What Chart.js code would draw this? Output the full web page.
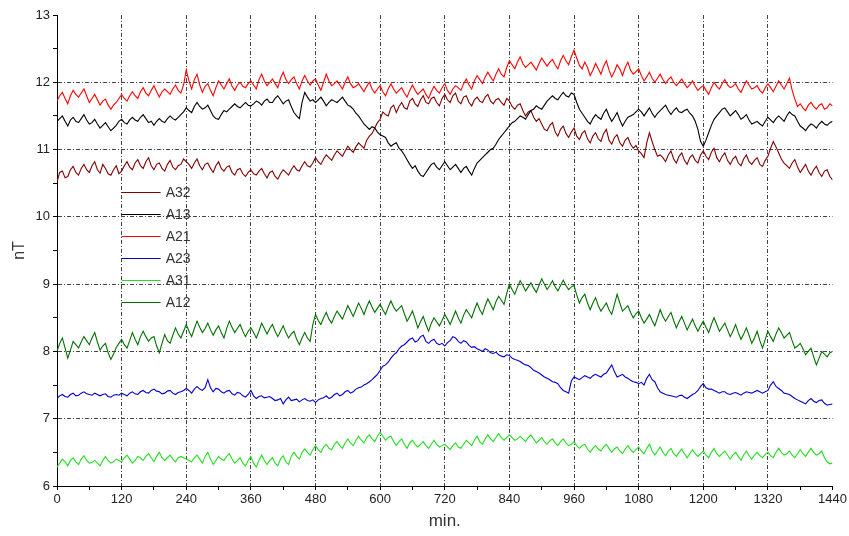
<!DOCTYPE html>
<html lang="en">
<head>
<meta charset="UTF-8">
<title>nT per minute</title>
<script src="https://cdn.jsdelivr.net/npm/chart.js"></script>
<style>
  html, body { margin: 0; padding: 0; background: #fff; }
  #wrap { width: 849px; height: 536px; position: relative; }
</style>
</head>
<body>
<div id="wrap"><canvas id="chart" width="849" height="536"></canvas></div>
<script>
// readings every 5 minutes, 0..1440
// the *On10 arrays hold the values at 0,10,20..1440 min, the *On5 arrays the ones at 5,15,25..1435 min
const minutes = [];
for (let m = 0; m <= 1440; m += 5) minutes.push(m);

const seriesNames = ['A32', 'A13', 'A21', 'A23', 'A31', 'A12'];
const seriesColors = ['#800000', '#000000', '#ff0000', '#0000cc', '#22dd22', '#007000'];

const a32On10 = [
  10.52, 10.68, 10.60, 10.75, 10.62, 10.78, 10.66, 10.82, 10.65, 10.72, 10.62, 10.76,
  10.68, 10.82, 10.70, 10.85, 10.72, 10.88, 10.70, 10.80, 10.68, 10.84, 10.70, 10.78,
  10.82, 10.72, 10.86, 10.70, 10.80, 10.66, 10.82, 10.68, 10.76, 10.62, 10.72, 10.60,
  10.70, 10.62, 10.72, 10.58, 10.68, 10.56, 10.70, 10.62, 10.76, 10.68, 10.82, 10.74,
  10.88, 10.78, 10.92, 10.84, 10.98, 10.90, 11.05, 10.96, 11.10, 11.02, 11.20, 11.32,
  11.45, 11.52, 11.62, 11.55, 11.70, 11.60, 11.76, 11.64, 11.80, 11.68, 11.78, 11.65,
  11.82, 11.70, 11.84, 11.68, 11.80, 11.65, 11.78, 11.70, 11.82, 11.68, 11.76, 11.66,
  11.72, 11.60, 11.68, 11.50, 11.58, 11.42, 11.38, 11.28, 11.40, 11.20, 11.35, 11.18,
  11.32, 11.15, 11.28, 11.10, 11.25, 11.12, 11.30, 11.08, 11.22, 11.05, 11.18, 11.02,
  10.98, 10.88, 11.25, 11.00, 10.92, 10.82, 10.98, 10.80, 10.95, 10.78, 10.92, 10.80,
  10.98, 10.85, 11.02, 10.82, 10.95, 10.78, 10.90, 10.76, 10.92, 10.78, 10.88, 10.75,
  10.90, 11.12, 10.95, 10.80, 10.72, 10.85, 10.66, 10.78, 10.62, 10.75, 10.60, 10.70,
  10.55
];
const a32On5 = [
  10.66, 10.58, 10.70, 10.66, 10.72, 10.70, 10.76, 10.70, 10.78, 10.64, 10.70, 10.64,
  10.76, 10.74, 10.80, 10.76, 10.82, 10.76, 10.78, 10.72, 10.78, 10.74, 10.76, 10.86,
  10.78, 10.80, 10.76, 10.78, 10.72, 10.76, 10.72, 10.74, 10.66, 10.70, 10.64, 10.66,
  10.64, 10.68, 10.64, 10.66, 10.60, 10.64, 10.66, 10.70, 10.70, 10.76, 10.76, 10.80,
  10.82, 10.86, 10.88, 10.92, 10.94, 10.98, 11.00, 11.04, 11.06, 11.14, 11.24, 11.40,
  11.56, 11.50, 11.66, 11.64, 11.62, 11.72, 11.68, 11.74, 11.70, 11.76, 11.70, 11.76,
  11.74, 11.80, 11.72, 11.78, 11.70, 11.74, 11.72, 11.78, 11.72, 11.74, 11.70, 11.76,
  11.64, 11.66, 11.58, 11.56, 11.48, 11.46, 11.30, 11.36, 11.26, 11.30, 11.24, 11.26,
  11.20, 11.24, 11.16, 11.20, 11.16, 11.24, 11.14, 11.18, 11.10, 11.14, 11.08, 11.06,
  10.94, 11.10, 11.12, 10.90, 10.88, 10.92, 10.86, 10.90, 10.84, 10.88, 10.84, 10.92,
  10.90, 10.96, 10.88, 10.90, 10.84, 10.86, 10.80, 10.86, 10.82, 10.84, 10.78, 10.84,
  11.02, 11.04, 10.86, 10.76, 10.80, 10.74, 10.72, 10.68, 10.70, 10.66, 10.68, 10.60
];

const a13On10 = [
  11.42, 11.50, 11.35, 11.48, 11.40, 11.52, 11.38, 11.45, 11.32, 11.40, 11.28, 11.36,
  11.45, 11.38, 11.48, 11.42, 11.52, 11.40, 11.36, 11.46, 11.40, 11.50, 11.44, 11.52,
  11.62, 11.55, 11.70, 11.60, 11.66, 11.50, 11.45, 11.58, 11.60, 11.68, 11.62, 11.70,
  11.65, 11.72, 11.66, 11.75, 11.70, 11.80, 11.68, 11.74, 11.55, 11.46, 11.85, 11.72,
  11.70, 11.78, 11.65, 11.74, 11.70, 11.78, 11.66, 11.60, 11.50, 11.38, 11.30, 11.32,
  11.22, 11.18, 11.05, 11.10, 10.98, 10.85, 10.72, 10.68, 10.60, 10.72, 10.80, 10.70,
  10.82, 10.70, 10.78, 10.66, 10.75, 10.62, 10.80, 10.88, 10.96, 11.02, 11.15, 11.25,
  11.35, 11.42, 11.50, 11.45, 11.58, 11.65, 11.60, 11.72, 11.80, 11.74, 11.85, 11.78,
  11.82, 11.60, 11.48, 11.38, 11.52, 11.45, 11.60, 11.42, 11.55, 11.35, 11.48, 11.52,
  11.60, 11.50, 11.62, 11.48, 11.58, 11.66, 11.52, 11.62, 11.55, 11.60, 11.50, 11.30,
  11.05, 11.25, 11.45, 11.55, 11.62, 11.50, 11.58, 11.45, 11.52, 11.38, 11.42, 11.35,
  11.48, 11.40, 11.50, 11.42, 11.56, 11.50, 11.35, 11.28, 11.38, 11.32, 11.42, 11.36,
  11.42
];
const a13On5 = [
  11.46, 11.42, 11.44, 11.42, 11.46, 11.44, 11.40, 11.38, 11.36, 11.34, 11.32, 11.42,
  11.40, 11.44, 11.44, 11.48, 11.46, 11.42, 11.42, 11.42, 11.46, 11.46, 11.48, 11.56,
  11.58, 11.64, 11.64, 11.62, 11.58, 11.46, 11.52, 11.56, 11.64, 11.64, 11.66, 11.66,
  11.68, 11.70, 11.72, 11.70, 11.76, 11.74, 11.72, 11.64, 11.50, 11.70, 11.78, 11.74,
  11.74, 11.72, 11.70, 11.72, 11.74, 11.72, 11.64, 11.54, 11.44, 11.34, 11.34, 11.26,
  11.20, 11.10, 11.08, 11.02, 10.92, 10.78, 10.76, 10.62, 10.66, 10.78, 10.74, 10.76,
  10.76, 10.74, 10.72, 10.72, 10.68, 10.72, 10.84, 10.92, 11.00, 11.08, 11.20, 11.30,
  11.40, 11.46, 11.48, 11.52, 11.60, 11.62, 11.66, 11.76, 11.76, 11.80, 11.80, 11.84,
  11.70, 11.54, 11.42, 11.46, 11.48, 11.54, 11.50, 11.48, 11.44, 11.42, 11.50, 11.56,
  11.56, 11.56, 11.54, 11.54, 11.62, 11.58, 11.58, 11.56, 11.58, 11.54, 11.42, 11.12,
  11.14, 11.36, 11.50, 11.60, 11.56, 11.54, 11.52, 11.48, 11.44, 11.40, 11.38, 11.42,
  11.44, 11.46, 11.46, 11.50, 11.52, 11.42, 11.32, 11.34, 11.36, 11.38, 11.38, 11.40
];

const a21On10 = [
  11.72, 11.85, 11.68, 11.88, 11.78, 11.90, 11.70, 11.82, 11.66, 11.75, 11.60, 11.70,
  11.82, 11.72, 11.86, 11.76, 11.92, 11.80, 11.95, 11.78, 11.90, 11.82, 11.96, 11.84,
  12.18, 11.90, 12.12, 11.85, 11.98, 11.80, 12.02, 11.90, 12.05, 11.88, 12.00, 11.92,
  12.02, 11.90, 12.12, 11.95, 12.05, 11.92, 12.15, 11.98, 12.08, 11.90, 12.10, 11.96,
  12.05, 11.88, 12.12, 11.95, 12.02, 11.90, 12.08, 11.92, 11.98, 11.86, 12.00, 11.84,
  11.95, 11.80, 11.98, 11.84, 11.92, 11.78, 11.96, 11.82, 11.90, 11.76, 11.94, 11.84,
  11.98, 11.82, 11.95, 11.88, 12.05, 11.90, 12.10, 11.98, 12.15, 12.02, 12.20, 12.08,
  12.32, 12.20, 12.38, 12.22, 12.30, 12.18, 12.36, 12.24, 12.34, 12.20, 12.40, 12.26,
  12.48, 12.25, 12.30, 12.10, 12.28, 12.12, 12.32, 12.08, 12.26, 12.10, 12.30, 12.12,
  12.20, 12.02, 12.15, 12.00, 12.12, 11.98, 12.08, 11.95, 12.05, 11.92, 12.02, 11.88,
  11.95, 11.82, 12.00, 11.90, 12.04, 11.92, 11.98, 11.85, 12.02, 11.90, 11.95, 11.84,
  11.98, 11.86, 12.02, 11.90, 12.06, 11.75, 11.68, 11.58, 11.70, 11.60, 11.68, 11.62,
  11.65
];
const a21On5 = [
  11.80, 11.76, 11.80, 11.82, 11.84, 11.80, 11.76, 11.74, 11.72, 11.66, 11.66, 11.76,
  11.76, 11.80, 11.80, 11.86, 11.84, 11.88, 11.86, 11.86, 11.86, 11.90, 11.88, 11.96,
  12.02, 12.04, 11.96, 11.94, 11.88, 11.92, 11.96, 11.98, 11.94, 11.96, 11.94, 11.98,
  11.96, 12.04, 12.02, 12.00, 11.98, 12.06, 12.04, 12.04, 11.98, 12.02, 12.02, 12.02,
  11.96, 12.00, 12.02, 11.98, 11.96, 12.00, 11.98, 11.94, 11.92, 11.94, 11.90, 11.90,
  11.86, 11.90, 11.90, 11.88, 11.84, 11.88, 11.88, 11.86, 11.82, 11.86, 11.88, 11.92,
  11.88, 11.90, 11.92, 11.98, 11.96, 12.02, 12.04, 12.08, 12.08, 12.12, 12.12, 12.22,
  12.26, 12.30, 12.28, 12.26, 12.24, 12.28, 12.30, 12.30, 12.26, 12.32, 12.32, 12.38,
  12.36, 12.20, 12.22, 12.18, 12.20, 12.24, 12.18, 12.16, 12.20, 12.22, 12.18, 12.16,
  12.10, 12.08, 12.06, 12.06, 12.04, 12.04, 12.00, 12.00, 11.98, 11.96, 11.94, 11.92,
  11.88, 11.92, 11.94, 11.98, 11.96, 11.94, 11.90, 11.94, 11.96, 11.92, 11.88, 11.92,
  11.92, 11.94, 11.96, 11.98, 11.88, 11.64, 11.62, 11.66, 11.64, 11.66, 11.60, 11.68
];

const a23On10 = [
  7.30, 7.36, 7.32, 7.38, 7.35, 7.40, 7.36, 7.38, 7.34, 7.37, 7.32, 7.36,
  7.38, 7.34, 7.40, 7.36, 7.42, 7.38, 7.44, 7.40, 7.38, 7.42, 7.36, 7.40,
  7.45, 7.38, 7.48, 7.42, 7.58, 7.40, 7.44, 7.38, 7.42, 7.35, 7.38, 7.32,
  7.42, 7.30, 7.34, 7.32, 7.30, 7.28, 7.22, 7.32, 7.28, 7.25, 7.30, 7.26,
  7.24, 7.30, 7.34, 7.32, 7.38, 7.36, 7.42, 7.40, 7.46, 7.50, 7.55, 7.62,
  7.72, 7.80, 7.90, 7.98, 8.08, 8.14, 8.20, 8.16, 8.24, 8.12, 8.18, 8.10,
  8.08, 8.16, 8.20, 8.12, 8.14, 8.06, 8.04, 8.00, 8.02, 7.97, 7.95, 7.92,
  7.94, 7.88, 7.85, 7.80, 7.76, 7.70, 7.65, 7.60, 7.55, 7.52, 7.42, 7.38,
  7.62, 7.58, 7.64, 7.60, 7.66, 7.62, 7.68, 7.80, 7.62, 7.66, 7.60, 7.55,
  7.52, 7.50, 7.66, 7.55, 7.40, 7.36, 7.34, 7.32, 7.35, 7.30, 7.36, 7.42,
  7.52, 7.44, 7.42, 7.38, 7.40, 7.36, 7.39, 7.35, 7.40, 7.38, 7.42, 7.38,
  7.42, 7.55, 7.45, 7.38, 7.36, 7.30, 7.26, 7.22, 7.30, 7.24, 7.28, 7.20,
  7.22
];
const a23On5 = [
  7.34, 7.33, 7.36, 7.34, 7.38, 7.37, 7.35, 7.36, 7.36, 7.33, 7.35, 7.35,
  7.36, 7.38, 7.37, 7.40, 7.39, 7.42, 7.41, 7.37, 7.41, 7.38, 7.39, 7.42,
  7.42, 7.44, 7.44, 7.46, 7.46, 7.45, 7.40, 7.41, 7.37, 7.39, 7.34, 7.36,
  7.34, 7.33, 7.31, 7.33, 7.27, 7.30, 7.28, 7.27, 7.29, 7.28, 7.27, 7.28,
  7.28, 7.31, 7.30, 7.36, 7.34, 7.40, 7.38, 7.44, 7.47, 7.52, 7.58, 7.66,
  7.78, 7.84, 7.95, 8.04, 8.10, 8.18, 8.14, 8.22, 8.15, 8.16, 8.12, 8.12,
  8.13, 8.22, 8.15, 8.16, 8.09, 8.07, 8.02, 8.04, 7.98, 7.99, 7.93, 7.95,
  7.90, 7.87, 7.82, 7.79, 7.72, 7.68, 7.62, 7.58, 7.54, 7.46, 7.40, 7.56,
  7.60, 7.61, 7.62, 7.64, 7.64, 7.66, 7.74, 7.70, 7.64, 7.62, 7.57, 7.54,
  7.54, 7.60, 7.58, 7.46, 7.38, 7.35, 7.33, 7.34, 7.32, 7.33, 7.38, 7.48,
  7.46, 7.44, 7.40, 7.40, 7.37, 7.38, 7.37, 7.38, 7.39, 7.40, 7.40, 7.40,
  7.50, 7.48, 7.42, 7.37, 7.33, 7.28, 7.24, 7.27, 7.26, 7.27, 7.23, 7.21
];

const a31On10 = [
  6.28, 6.40, 6.30, 6.42, 6.32, 6.45, 6.34, 6.38, 6.30, 6.44, 6.34, 6.40,
  6.36, 6.46, 6.34, 6.44, 6.38, 6.48, 6.36, 6.50, 6.38, 6.46, 6.36, 6.44,
  6.40, 6.36, 6.46, 6.34, 6.50, 6.32, 6.44, 6.38, 6.48, 6.34, 6.42, 6.30,
  6.44, 6.28, 6.46, 6.32, 6.42, 6.30, 6.45, 6.32, 6.50, 6.40, 6.55, 6.46,
  6.60, 6.50, 6.62, 6.54, 6.66, 6.56, 6.70, 6.60, 6.74, 6.64, 6.76, 6.66,
  6.80, 6.68, 6.74, 6.60, 6.70, 6.56, 6.68, 6.58, 6.66, 6.56, 6.68, 6.58,
  6.62, 6.54, 6.64, 6.56, 6.68, 6.60, 6.74, 6.62, 6.76, 6.66, 6.78, 6.68,
  6.76, 6.68, 6.74, 6.66, 6.76, 6.64, 6.72, 6.62, 6.70, 6.60, 6.70, 6.60,
  6.66, 6.56, 6.62, 6.50, 6.60, 6.52, 6.62, 6.50, 6.58, 6.48, 6.60, 6.50,
  6.58, 6.48, 6.62, 6.46, 6.58, 6.45, 6.56, 6.44, 6.55, 6.42, 6.54, 6.44,
  6.52, 6.42, 6.56, 6.44, 6.52, 6.40, 6.50, 6.38, 6.52, 6.40, 6.50, 6.42,
  6.50, 6.42, 6.56, 6.46, 6.52, 6.42, 6.54, 6.44, 6.56, 6.46, 6.52, 6.36,
  6.34
];
const a31On5 = [
  6.34, 6.36, 6.38, 6.36, 6.40, 6.38, 6.35, 6.34, 6.38, 6.38, 6.36, 6.38,
  6.42, 6.40, 6.38, 6.42, 6.44, 6.42, 6.44, 6.42, 6.42, 6.40, 6.42, 6.42,
  6.38, 6.42, 6.40, 6.44, 6.40, 6.38, 6.40, 6.44, 6.40, 6.38, 6.34, 6.38,
  6.34, 6.38, 6.38, 6.38, 6.34, 6.40, 6.36, 6.44, 6.44, 6.50, 6.50, 6.54,
  6.54, 6.58, 6.56, 6.62, 6.60, 6.64, 6.64, 6.68, 6.68, 6.72, 6.70, 6.74,
  6.74, 6.72, 6.66, 6.66, 6.62, 6.64, 6.62, 6.62, 6.60, 6.62, 6.62, 6.60,
  6.58, 6.60, 6.58, 6.62, 6.64, 6.68, 6.66, 6.70, 6.70, 6.72, 6.72, 6.72,
  6.72, 6.70, 6.70, 6.72, 6.70, 6.68, 6.66, 6.67, 6.64, 6.66, 6.64, 6.62,
  6.60, 6.60, 6.55, 6.56, 6.55, 6.58, 6.56, 6.55, 6.52, 6.55, 6.54, 6.54,
  6.52, 6.56, 6.52, 6.52, 6.50, 6.52, 6.48, 6.50, 6.48, 6.48, 6.48, 6.48,
  6.46, 6.50, 6.48, 6.48, 6.46, 6.46, 6.44, 6.46, 6.45, 6.46, 6.45, 6.47,
  6.45, 6.50, 6.50, 6.48, 6.46, 6.48, 6.48, 6.50, 6.50, 6.48, 6.42, 6.33
];

const a12On10 = [
  8.00, 8.20, 7.90, 8.15, 8.05, 8.22, 8.10, 8.28, 8.02, 8.12, 7.88, 8.06,
  8.18, 8.05, 8.28, 8.10, 8.30, 8.15, 8.22, 7.98, 8.25, 8.12, 8.35, 8.20,
  8.40, 8.22, 8.45, 8.28, 8.42, 8.24, 8.38, 8.20, 8.45, 8.28, 8.40, 8.22,
  8.35, 8.20, 8.42, 8.26, 8.40, 8.22, 8.38, 8.20, 8.30, 8.10, 8.28, 8.15,
  8.55, 8.40, 8.58, 8.42, 8.60, 8.48, 8.68, 8.52, 8.72, 8.55, 8.75, 8.58,
  8.70, 8.55, 8.75, 8.60, 8.68, 8.45, 8.60, 8.35, 8.52, 8.30, 8.50, 8.38,
  8.55, 8.40, 8.60, 8.42, 8.62, 8.50, 8.72, 8.55, 8.78, 8.62, 8.82, 8.70,
  9.00, 8.85, 9.05, 8.90, 9.02, 8.88, 9.08, 8.92, 9.05, 8.90, 9.06, 8.92,
  8.98, 8.72, 8.85, 8.62, 8.80, 8.60, 8.72, 8.55, 8.85, 8.60, 8.68, 8.50,
  8.60, 8.42, 8.55, 8.38, 8.62, 8.45, 8.58, 8.35, 8.52, 8.32, 8.48, 8.30,
  8.45, 8.28, 8.50, 8.30, 8.42, 8.22, 8.40, 8.18, 8.35, 8.12, 8.30, 8.05,
  8.30, 8.15, 8.35, 8.20, 8.28, 8.05, 8.12, 7.95, 8.05, 7.80, 8.00, 7.92,
  8.00
];
const a12On5 = [
  8.12, 8.05, 8.02, 8.10, 8.14, 8.16, 8.20, 8.14, 8.08, 7.98, 7.96, 8.12,
  8.10, 8.16, 8.18, 8.22, 8.22, 8.20, 8.08, 8.12, 8.16, 8.24, 8.26, 8.30,
  8.30, 8.34, 8.36, 8.34, 8.32, 8.32, 8.28, 8.34, 8.36, 8.34, 8.30, 8.30,
  8.28, 8.30, 8.34, 8.34, 8.30, 8.30, 8.28, 8.26, 8.18, 8.20, 8.20, 8.40,
  8.46, 8.50, 8.48, 8.52, 8.54, 8.58, 8.60, 8.62, 8.64, 8.66, 8.66, 8.64,
  8.62, 8.66, 8.66, 8.64, 8.56, 8.52, 8.48, 8.44, 8.40, 8.42, 8.44, 8.46,
  8.48, 8.50, 8.50, 8.54, 8.56, 8.62, 8.62, 8.68, 8.70, 8.74, 8.76, 8.86,
  8.92, 8.96, 8.98, 8.96, 8.94, 8.98, 9.00, 8.98, 8.96, 8.98, 8.98, 8.96,
  8.84, 8.80, 8.72, 8.72, 8.68, 8.66, 8.62, 8.70, 8.72, 8.64, 8.58, 8.56,
  8.50, 8.48, 8.46, 8.50, 8.52, 8.52, 8.46, 8.44, 8.42, 8.40, 8.38, 8.38,
  8.36, 8.40, 8.40, 8.36, 8.32, 8.30, 8.28, 8.26, 8.24, 8.20, 8.16, 8.18,
  8.22, 8.26, 8.28, 8.24, 8.16, 8.08, 8.04, 8.00, 7.92, 7.90, 7.96, 7.98
];

// put the 10-min and 5-min readings back in time order
function inTimeOrder(on10, on5) {
  const out = [];
  on10.forEach((v, i) => {
    out.push(v);
    if (i < on5.length) out.push(on5[i]);
  });
  return out;
}

const seriesValues = [
  inTimeOrder(a32On10, a32On5),
  inTimeOrder(a13On10, a13On5),
  inTimeOrder(a21On10, a21On5),
  inTimeOrder(a23On10, a23On5),
  inTimeOrder(a31On10, a31On5),
  inTimeOrder(a12On10, a12On5)
];

const FONT = '"Liberation Sans", Arial, sans-serif';

// legend drawn inside the plot, next to the 120 min grid line
const insideLegend = {
  id: 'insideLegend',
  afterDatasetsDraw(chart) {
    const { ctx, chartArea, scales } = chart;
    const x0 = scales.x.getPixelForValue(120);
    ctx.save();
    ctx.font = '14px ' + FONT;
    ctx.textBaseline = 'middle';
    chart.data.datasets.forEach((ds, i) => {
      const yy = Math.round(chartArea.top + 177 + i * 22) + 0.5;
      ctx.strokeStyle = ds.borderColor;
      ctx.lineWidth = 1.2;
      ctx.beginPath();
      ctx.moveTo(x0, yy);
      ctx.lineTo(x0 + 39, yy);
      ctx.stroke();
      ctx.fillStyle = '#333';
      ctx.fillText(ds.label, x0 + 44, yy + 1);
    });
    ctx.restore();
  }
};

const ctx = document.getElementById('chart').getContext('2d');

new Chart(ctx, {
  type: 'line',
  data: {
    datasets: seriesNames.map((name, i) => ({
      label: name,
      data: seriesValues[i].map((v, j) => ({ x: minutes[j], y: v })),
      borderColor: seriesColors[i],
      backgroundColor: seriesColors[i],
      borderWidth: 1.1,
      pointRadius: 0,
      tension: 0,
      fill: false,
      order: seriesNames.length - i
    }))
  },
  options: {
    responsive: false,
    animation: false,
    layout: { padding: { top: 15, right: 15, left: 0, bottom: 0 } },
    plugins: {
      legend: { display: false },
      tooltip: { enabled: false }
    },
    scales: {
      x: {
        type: 'linear',
        min: 0,
        max: 1440,
        afterFit: (s) => { s.height = 50; },
        border: { display: true, color: '#000', width: 1, dash: [4, 2, 1, 2] },
        grid: {
          color: (c) => {
            const v = c.tick ? c.tick.value : 0;
            return (v > 0 && v < 1440 && v % 120 === 0) ? '#444' : 'rgba(0,0,0,0)';
          },
          lineWidth: 1,
          drawTicks: true,
          tickLength: 4,
          tickColor: '#000',
          tickBorderDash: []
        },
        ticks: {
          stepSize: 60,
          autoSkip: false,
          maxRotation: 0,
          padding: 2,
          color: '#222',
          font: { family: FONT, size: 13 },
          callback: (v) => (v % 120 === 0 ? String(v) : '')
        },
        title: {
          display: true,
          text: 'min.',
          color: '#333',
          font: { family: FONT, size: 17 },
          padding: { top: 0, bottom: 4 }
        }
      },
      y: {
        min: 6,
        max: 13,
        afterFit: (s) => { s.width = 57; },
        border: { display: true, color: '#000', width: 1, dash: [4, 2, 1, 2] },
        grid: {
          color: (c) => {
            const v = c.tick ? c.tick.value : 0;
            return (v > 6 && v < 13 && Number.isInteger(v)) ? '#444' : 'rgba(0,0,0,0)';
          },
          lineWidth: 1,
          tickLength: 4,
          tickColor: '#000',
          tickBorderDash: []
        },
        ticks: {
          stepSize: 0.5,
          autoSkip: false,
          padding: 3,
          color: '#222',
          font: { family: FONT, size: 13 },
          callback: (v) => (Number.isInteger(v) ? String(v) : '')
        },
        title: {
          display: true,
          text: 'nT',
          color: '#333',
          font: { family: FONT, size: 16 },
          padding: { top: 10, bottom: 0 }
        }
      }
    }
  },
  plugins: [insideLegend]
});
</script>
</body>
</html>
